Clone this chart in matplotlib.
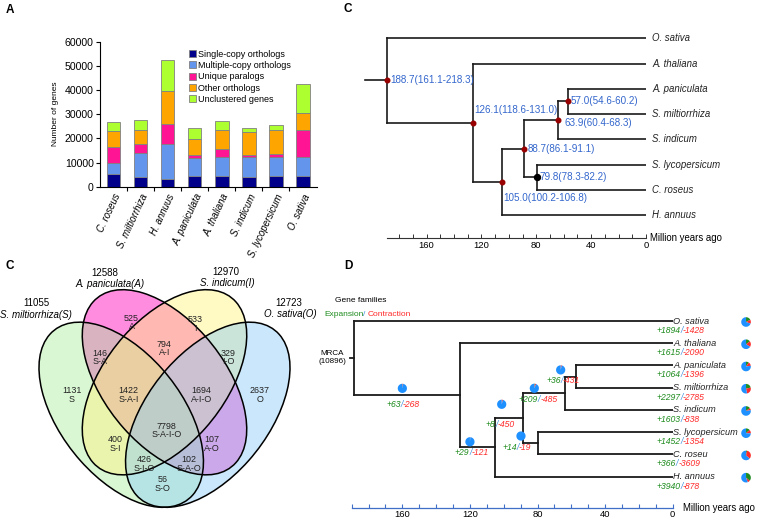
import matplotlib
matplotlib.use("Agg")
import matplotlib.pyplot as plt
from matplotlib.patches import Ellipse, Patch
from matplotlib.offsetbox import TextArea, HPacker, AnnotationBbox
import numpy as np

plt.rcParams['font.family'] = ['Liberation Sans', 'DejaVu Sans']

# ------------------------------------------------------------------ data
# Panel A
species_a = ["C. roseus", "S. miltiorrhiza", "H. annuus", "A. paniculata",
             "A. thaliana", "S. indicum", "S. lycopersicum", "O. sativa"]
single_copy = [5400, 3900, 3200, 4500, 4400, 4100, 4400, 4500]
multiple_copy = [4200, 9900, 14300, 7200, 7700, 8300, 7700, 7800]
unique_paralogs = [6900, 3800, 8600, 1300, 3500, 600, 1400, 11100]
other_orthologs = [6700, 5900, 13400, 6600, 7700, 9500, 9900, 6900]
unclustered = [3500, 4300, 12800, 4500, 3900, 1600, 2100, 12000]
series_names = ["Single-copy orthologs", "Multiple-copy orthologs",
                "Unique paralogs", "Other orthologs", "Unclustered genes"]
series_colors = ["#00008B", "#6495ED", "#FF1493", "#FFA500", "#ADFF2F"]

# Panel C (divergence times)
leaves_c = ["O. sativa", "A. thaliana", "A. paniculata", "S. miltiorrhiza",
            "S. indicum", "S. lycopersicum", "C. roseus", "H. annuus"]
node_names = ["n188", "n126", "n105", "n88", "n63", "n57", "n79"]
node_age = [188.7, 126.1, 105.0, 88.7, 63.9, 57.0, 79.8]
node_low = [161.1, 118.6, 100.2, 86.1, 60.4, 54.6, 78.3]
node_high = [218.3, 131.0, 106.8, 91.1, 68.3, 60.2, 82.2]

def make_tree(leaves):
    ag = dict(zip(node_names, node_age))
    return ("n188", ag["n188"], [leaves[0],
            ("n126", ag["n126"], [leaves[1],
             ("n105", ag["n105"], [
              ("n88", ag["n88"], [
               ("n63", ag["n63"], [("n57", ag["n57"], [leaves[2], leaves[3]]), leaves[4]]),
               ("n79", ag["n79"], [leaves[5], leaves[6]])]),
              leaves[7]])])])

# Panel C (Venn)
venn_sets = ["S. miltiorrhiza(S)", "A. paniculata(A)", "S. indicum(I)", "O. sativa(O)"]
venn_totals = [11055, 12588, 12970, 12723]
venn_regions = ["A", "I", "S-A", "A-I", "I-O", "S", "S-A-I", "A-I-O", "O",
                "S-A-I-O", "S-I", "A-O", "S-I-O", "S-A-O", "S-O"]
venn_counts = [525, 533, 146, 794, 329, 1131, 1422, 1694, 2637,
               7798, 400, 107, 426, 102, 56]

# Panel D (gene family expansion / contraction)
leaves_d = ["O. sativa", "A. thaliana", "A. paniculata", "S. miltiorrhiza",
            "S. indicum", "S. lycopersicum", "C. roseu", "H. annuus"]
leaf_expansion = [1894, 1615, 1064, 2297, 1603, 1452, 366, 3940]
leaf_contraction = [1428, 2090, 1396, 2785, 838, 1354, 3609, 878]
branch_nodes = ["n126", "n105", "n88", "n63", "n57", "n79"]
branch_expansion = [63, 29, 8, 209, 36, 14]
branch_contraction = [268, 121, 450, 485, 431, 19]
mrca_families = 10896

# ------------------------------------------------------------------ figure
W, H = 758, 519
fig = plt.figure(figsize=(W / 100, H / 100), dpi=100)


def px_rect(x0, y0, x1, y1):
    return [x0 / W, 1 - y1 / H, (x1 - x0) / W, (y1 - y0) / H]


def fig_px(x, y):
    return (x / W, 1 - y / H)


for letter, (lx, ly) in zip("ACCD", [(10, 10), (348, 9), (10, 266), (348, 266)]):
    fig.text(*fig_px(lx, ly), letter, fontsize=8.5, fontweight='bold',
             ha='center', va='center')

# ------------------------------------------------------------------ Panel A
axA = fig.add_axes(px_rect(100, 41.7, 316.5, 186.7))
xpos = np.arange(len(species_a))
bottom = np.zeros(len(species_a))
for vals, name, col in zip([single_copy, multiple_copy, unique_paralogs,
                            other_orthologs, unclustered], series_names, series_colors):
    axA.bar(xpos, vals, width=0.5, bottom=bottom, color=col, edgecolor='#808080',
            linewidth=0.6, label=name)
    bottom += np.array(vals)
axA.set_xlim(-0.5, 7.5)
axA.set_ylim(0, 60000)
axA.set_yticks(np.arange(0, 60001, 10000))
axA.set_xticks(xpos)
axA.set_xticklabels(species_a, rotation=65, ha='right', rotation_mode='anchor',
                    fontstyle='italic', fontsize=7)
axA.set_xticks(np.arange(0.5, 7.5, 1), minor=True)
axA.tick_params(axis='x', which='major', length=0, pad=4)
axA.tick_params(axis='x', which='minor', length=3, width=0.8, direction='out')
axA.tick_params(axis='y', labelsize=7.6, length=3, width=0.8, pad=1.5)
for s in ['top', 'right']:
    axA.spines[s].set_visible(False)
for s in ['left', 'bottom']:
    axA.spines[s].set_linewidth(0.8)
axA.set_ylabel("Number of genes", fontsize=6, labelpad=4)
handles = [Patch(facecolor=c, edgecolor='#808080', linewidth=0.6, label=n)
           for n, c in zip(series_names, series_colors)]
axA.legend(handles=handles, loc='upper left', bbox_to_anchor=(0.41, 0.944),
           frameon=False, fontsize=6.5, handlelength=0.8, handleheight=0.8,
           handletextpad=0.25, labelspacing=0.25, borderpad=0, borderaxespad=0)


# ------------------------------------------------------------------ tree helpers
def layout_tree(node, leaf_y, coords):
    if isinstance(node, str):
        coords[node] = (0.0, leaf_y[node])
        return coords[node]
    name, age, kids = node
    ys = [layout_tree(k, leaf_y, coords)[1] for k in kids]
    coords[name] = (age, (min(ys) + max(ys)) / 2)
    return coords[name]


def nname(n):
    return n if isinstance(n, str) else n[0]


def draw_tree(ax, node, coords, parent_age, **kw):
    name = nname(node)
    x, y = coords[name]
    ax.plot([parent_age, x], [y, y], solid_capstyle='projecting', **kw)
    if not isinstance(node, str):
        kys = [coords[nname(k)][1] for k in node[2]]
        ax.plot([x, x], [min(kys), max(kys)], solid_capstyle='projecting', **kw)
        for k in node[2]:
            draw_tree(ax, k, coords, x, **kw)


# ------------------------------------------------------------------ Panel C (tree)
axC = fig.add_axes(px_rect(360, 20, 646, 238))
axC.set_xlim(208.6, 0)
axC.set_ylim(7.912, -0.725)
treeC = make_tree(leaves_c)
coordsC = {}
layout_tree(treeC, {l: i for i, l in enumerate(leaves_c)}, coordsC)
draw_tree(axC, treeC, coordsC, 205.0, color='#1a1a1a', lw=1.2)
for i, l in enumerate(leaves_c):
    axC.text(-4.4, i, l, fontsize=6.9, style='italic', va='center', ha='left',
             color='#222222')
label_offsets = {"n188": (3, 0), "n126": (1.5, -13), "n105": (1, 16.5), "n88": (3, 0),
                 "n63": (6, 3), "n57": (3, 0), "n79": (3, 0)}
for nm, a, lo, hi in zip(node_names, node_age, node_low, node_high):
    x, y = coordsC[nm]
    if nm == "n79":
        axC.plot(x, y, 'o', color='black', ms=4.3, zorder=5)
    else:
        axC.plot(x, y, 'o', color='#990000', ms=3.3, zorder=5)
    dx, dy = label_offsets[nm]
    axC.annotate(f"{a:.1f}({lo:.1f}-{hi:.1f})", (x, y), xytext=(dx * 0.72, -dy * 0.72),
                 textcoords='offset points', fontsize=7.1, color='#3366CC',
                 ha='left', va='center', annotation_clip=False)
for s in ['top', 'right', 'left']:
    axC.spines[s].set_visible(False)
axC.spines['bottom'].set_bounds(0, 188.7)
axC.spines['bottom'].set_linewidth(0.8)
axC.spines['bottom'].set_color('#333333')
axC.set_yticks([])
axC.set_xticks([0, 40, 80, 120, 160])
axC.set_xticks(np.arange(10, 190, 10), minor=True)
axC.tick_params(axis='x', which='both', direction='in', length=3, width=0.7,
                color='#333333', labelsize=6.8, pad=2)
axC.text(-3, 7.912, "Million years ago", fontsize=6.9, va='center', ha='left')

# ------------------------------------------------------------------ Panel C (Venn)
axV = fig.add_axes([20.25 / W, 1 - 567.4 / H, 288.5 / W, 324.8 / H])
axV.set_xlim(0, 1)
axV.set_ylim(0, 1)
axV.axis('off')
ell_geo = [((0.35, 0.47), 135), ((0.5, 0.57), 135), ((0.5, 0.57), 45), ((0.65, 0.47), 45)]
ell_cols = ["#A6EC98", "#FF2EC4", "#FFF27E", "#8CCBF7"]
ell_alpha = [0.42, 0.55, 0.45, 0.45]
draw_order = [1, 0, 2, 3]   # A first, then S, I, O on top
for k in draw_order:
    (c, ang), col, al = ell_geo[k], ell_cols[k], ell_alpha[k]
    axV.add_patch(Ellipse(c, 0.70, 0.40, angle=ang, facecolor=col, alpha=al,
                          edgecolor='none', clip_on=False))
for (c, ang) in ell_geo:
    axV.add_patch(Ellipse(c, 0.70, 0.40, angle=ang, facecolor='none',
                          edgecolor='black', lw=1.1, clip_on=False))
region_pos = [(0.386, 0.753), (0.606, 0.749), (0.276, 0.647), (0.499, 0.675),
              (0.721, 0.647), (0.178, 0.531), (0.375, 0.531), (0.629, 0.531),
              (0.831, 0.531), (0.508, 0.421), (0.328, 0.380), (0.664, 0.380),
              (0.429, 0.318), (0.586, 0.318), (0.494, 0.257)]
for (rx, ry), name, cnt in zip(region_pos, venn_regions, venn_counts):
    axV.text(rx, ry, f"{cnt}\n{name}", fontsize=6.4, ha='center', va='center',
             linespacing=0.9, color='#222222')
title_pos = [((0.057, 0.814), (0.055, 0.777)), ((0.294, 0.906), (0.311, 0.873)),
             ((0.712, 0.909), (0.716, 0.876)), ((0.929, 0.814), (0.935, 0.781))]
for (p_num, p_name), nm, tot in zip(title_pos, venn_sets, venn_totals):
    axV.text(*p_num, f"{tot}", fontsize=7, ha='center', va='center')
    axV.text(*p_name, nm, fontsize=7, style='italic', ha='center', va='center')

# ------------------------------------------------------------------ Panel D
GREEN, RED, SLASH, PIEBLUE = '#1E8C1E', '#FF2A2A', '#3D8FE0', '#1E90FF'
axD = fig.add_axes(px_rect(340, 290, 672.7, 507.7))
axD.set_xlim(196.9, 0)
axD.set_ylim(8.395, -1.394)
treeD = make_tree(leaves_d)
coordsD = {}
layout_tree(treeD, {l: i for i, l in enumerate(leaves_d)}, coordsD)
draw_tree(axD, treeD, coordsD, 191.0, color='#1a1a1a', lw=1.3)
for s in ['top', 'right', 'left']:
    axD.spines[s].set_visible(False)
axD.spines['bottom'].set_bounds(0, 190)
axD.spines['bottom'].set_color('#3F6FC6')
axD.spines['bottom'].set_linewidth(0.9)
axD.set_yticks([])
axD.set_xticks([0, 40, 80, 120, 160])
axD.set_xticks(np.arange(10, 200, 10), minor=True)
axD.tick_params(axis='x', which='both', direction='in', length=3, width=0.8,
                color='#3F6FC6', labelsize=6.8, pad=2)
axD.text(-6.2, 8.395, "Million years ago", fontsize=6.9, va='center', ha='left')


def multi_text(ax, xy, parts, fs, box_alignment, offset_px=(0, 0), xycoords='data'):
    boxes = [TextArea(s, textprops=dict(color=c, fontsize=fs, style='italic'))
             for s, c in parts]
    hp = HPacker(children=boxes, align='baseline', pad=0, sep=0)
    ab = AnnotationBbox(hp, xy, xybox=(offset_px[0] * 0.72, -offset_px[1] * 0.72),
                        xycoords=xycoords, boxcoords='offset points', frameon=False,
                        box_alignment=box_alignment, pad=0, annotation_clip=False)
    ax.add_artist(ab)


def add_pie(ax, xy, vals, r_px=4.7, offset_px=(0, 0)):
    disp = ax.transData.transform(xy)
    cx = disp[0] + offset_px[0]
    cy = disp[1] - offset_px[1]
    pa = fig.add_axes([(cx - r_px) / W, (cy - r_px) / H, 2 * r_px / W, 2 * r_px / H])
    pa.pie(vals, colors=[GREEN, RED, PIEBLUE], startangle=90, counterclock=False,
           wedgeprops=dict(linewidth=0))
    pa.set_xlim(-1, 1)
    pa.set_ylim(-1, 1)
    pa.set_aspect('equal')
    pa.axis('off')


for i, (l, e, c) in enumerate(zip(leaves_d, leaf_expansion, leaf_contraction)):
    axD.text(-0.2, i, l, fontsize=6.6, style='italic', va='center', ha='left',
             color='#222222')
    multi_text(axD, (9.5, i), [(f"+{e}", GREEN), ("/", SLASH), (f"-{c}", RED)],
               6.2, (0, 0.5), (0, 9.5))
    add_pie(axD, (-43.4, i), [e, c, mrca_families - e - c], 4.8, (0, 1))

pie_place = {"n126": (160.0, -7), "n105": (120.0, -5.7), "n88": (101.2, -14),
             "n63": (81.9, -5), "n57": (66.3, -6.7), "n79": (89.8, -7.3)}
label_place = {"n126": (159.6, 8.7), "n105": (119.0, 5.5), "n88": (102.0, 6.7),
               "n63": (79.8, 6.6), "n57": (64.9, 4.2), "n79": (92.3, 4.2)}
for nm, e, c in zip(branch_nodes, branch_expansion, branch_contraction):
    y = coordsD[nm][1]
    pa_age, pdy = pie_place[nm]
    add_pie(axD, (pa_age, y), [e, c, mrca_families - e - c], 4.6, (0, pdy))
    la_age, ldy = label_place[nm]
    multi_text(axD, (la_age, y), [(f"+{e}", GREEN), ("/", SLASH), (f"-{c}", RED)],
               6.2, (0.5, 0.5), (0, ldy))

fig.text(*fig_px(335, 300), "Gene families", fontsize=6, ha='left', va='center')
boxes = [TextArea(s, textprops=dict(color=c, fontsize=6))
         for s, c in [("Expansion", GREEN), ("/ ", SLASH), ("Contraction", RED)]]
hp = HPacker(children=boxes, align='baseline', pad=0, sep=0)
fig.add_artist(AnnotationBbox(hp, fig_px(324, 314), xycoords='figure fraction',
                              frameon=False, box_alignment=(0, 0.5), pad=0))
fig.text(*fig_px(346, 357.5), "MRCA\n(10896)", fontsize=5.8, ha='right', va='center',
         multialignment='center', linespacing=1.1)

fig.savefig("out.png", dpi=100)
